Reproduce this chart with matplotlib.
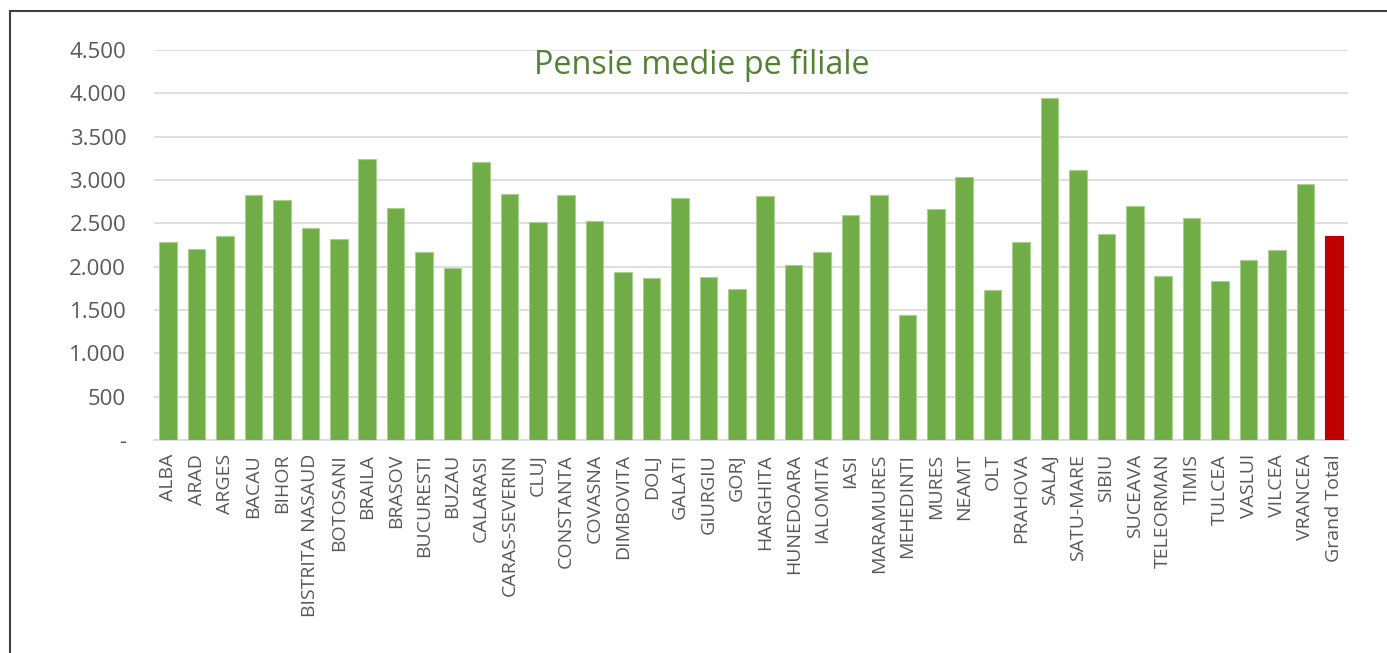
import numpy as np
import matplotlib
matplotlib.use('Agg')
import matplotlib.pyplot as plt
from matplotlib.lines import Line2D
from matplotlib.ticker import FuncFormatter

# data
filiale = ['ALBA', 'ARAD', 'ARGES', 'BACAU', 'BIHOR', 'BISTRITA NASAUD', 'BOTOSANI',
           'BRAILA', 'BRASOV', 'BUCURESTI', 'BUZAU', 'CALARASI', 'CARAS-SEVERIN',
           'CLUJ', 'CONSTANTA', 'COVASNA', 'DIMBOVITA', 'DOLJ', 'GALATI', 'GIURGIU',
           'GORJ', 'HARGHITA', 'HUNEDOARA', 'IALOMITA', 'IASI', 'MARAMURES',
           'MEHEDINTI', 'MURES', 'NEAMT', 'OLT', 'PRAHOVA', 'SALAJ', 'SATU-MARE',
           'SIBIU', 'SUCEAVA', 'TELEORMAN', 'TIMIS', 'TULCEA', 'VASLUI', 'VILCEA',
           'VRANCEA', 'Grand Total']
pensie = [2285, 2207, 2358, 2823, 2769, 2450, 2319,
          3238, 2673, 2165, 1981, 3211, 2835,
          2515, 2823, 2523, 1935, 1869, 2792, 1885,
          1742, 2812, 2019, 2173, 2592, 2827,
          1442, 2662, 3035, 1731, 2281, 3946, 3115,
          2373, 2700, 1892, 2565, 1835, 2077, 2192,
          2954, 2354]

green = '#70AD47'
red = '#C00000'
grey_txt = '#595959'
grid_col = '#D9D9D9'

W, H = 1387, 653
fig = plt.figure(figsize=(W / 100, H / 100), dpi=100)
ax = fig.add_axes([154 / W, 1 - 440 / H, (1348 - 154) / W, (440 - 50) / H])

x = np.arange(len(filiale))
colors = [green] * (len(filiale) - 1) + [red]
edges = ['#A9D08E'] * (len(filiale) - 1) + [red]
ax.bar(x, pensie, width=0.62, color=colors, edgecolor=edges, linewidth=0.8, zorder=3)

ax.set_xlim(-0.5, len(filiale) - 0.5)
ax.set_ylim(0, 4500)
ax.set_yticks(np.arange(0, 4501, 500))


def fmt(v, pos):
    if v == 0:
        return '-'
    return f'{int(v):,}'.replace(',', '.')


ax.yaxis.set_major_formatter(FuncFormatter(fmt))
ax.set_xticks(x)
ax.set_xticklabels(filiale, rotation=90)

for lab in ax.get_yticklabels():
    lab.set_fontfamily('Open Sans')
    lab.set_color(grey_txt)
    lab.set_fontsize(16)
for lab in ax.get_xticklabels():
    lab.set_fontfamily('Open Sans')
    lab.set_color(grey_txt)
    lab.set_fontsize(14)

ax.tick_params(axis='both', length=0)
ax.tick_params(axis='y', pad=20)
ax.tick_params(axis='x', pad=10)
ax.grid(axis='y', color=grid_col, linewidth=1.2, zorder=0)
for s in ['left', 'right', 'top']:
    ax.spines[s].set_visible(False)
ax.spines['bottom'].set_color(grid_col)
ax.spines['bottom'].set_linewidth(1.2)

fig.text(702 / W, 1 - 65 / H, 'Pensie medie pe filiale', color='#548235',
         fontsize=23.3, fontfamily='Open Sans', ha='center', va='center')

# chart border (cut off on the right and at the bottom)
fig.add_artist(Line2D([10 / W, 10 / W], [-0.05, 1 - 11 / H], transform=fig.transFigure,
                      color='#404040', linewidth=1.5))
fig.add_artist(Line2D([10 / W, 1.05], [1 - 11 / H, 1 - 11 / H], transform=fig.transFigure,
                      color='#404040', linewidth=1.5))

fig.savefig('out.png', dpi=100)
